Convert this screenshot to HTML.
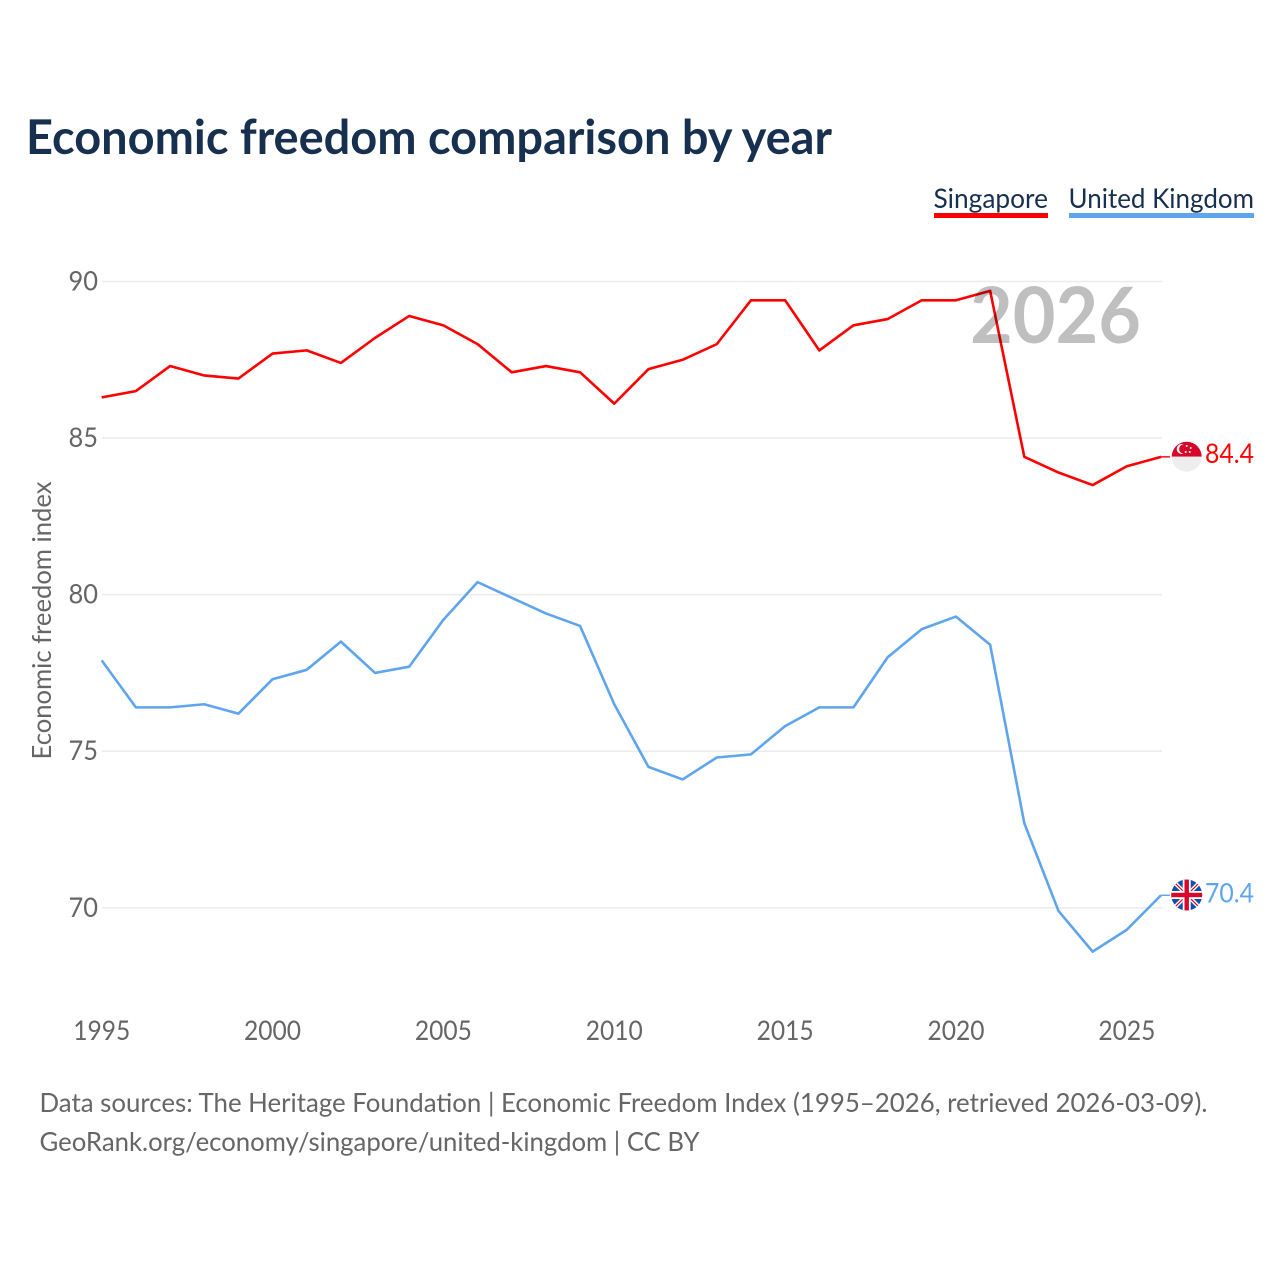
<!DOCTYPE html>
<html lang="en">
<head>
<meta charset="utf-8">
<title>Economic freedom comparison by year</title>
<style>
html,body{margin:0;padding:0;background:#fff;}
svg{display:block;}
text{font-family:"Lato","Carlito","Liberation Sans",sans-serif;}
</style>
</head>
<body>
<svg id="chart" xmlns="http://www.w3.org/2000/svg" width="1280" height="1280" viewBox="0 0 1280 1280">
  <defs>
    <clipPath id="flag-clip-sg"><circle cx="1186.7" cy="456.7" r="15"/></clipPath>
    <clipPath id="flag-clip-uk"><circle cx="1186.7" cy="895" r="15.5"/></clipPath>
  </defs>
  <rect x="0" y="0" width="1280" height="1280" fill="#ffffff"/>
  <text x="26" y="154" font-size="48" font-weight="700" fill="#18304f" textLength="806" lengthAdjust="spacingAndGlyphs">Economic freedom comparison by year</text>

  <g>
    <text x="933.5" y="208" font-size="27" fill="#18304f" textLength="114.5" lengthAdjust="spacingAndGlyphs">Singapore</text>
    <rect x="934" y="213" width="114" height="5" fill="#ff0000"/>
  </g>
  <g>
    <text x="1068.5" y="208" font-size="27" fill="#18304f" textLength="185.5" lengthAdjust="spacingAndGlyphs">United Kingdom</text>
    <rect x="1069" y="213" width="185" height="5" fill="#5fa5ee"/>
  </g>

  <g id="grid"></g>
  <g id="yticks"></g>
  <g id="xticks"></g>
  <text transform="translate(51 620.5) rotate(-90)" text-anchor="middle" font-size="26.5" fill="#666666" textLength="278" lengthAdjust="spacingAndGlyphs">Economic freedom index</text>

  <g id="series"></g>

  <text x="970" y="343" font-size="78" font-weight="700" fill="#000000" fill-opacity="0.25" textLength="171" lengthAdjust="spacingAndGlyphs">2026</text>

  <g clip-path="url(#flag-clip-sg)">
    <rect x="1171" y="441" width="31" height="15.7" fill="#d9062c"/>
    <rect x="1171" y="456.7" width="31" height="15.5" fill="#eeeeee"/>
    <circle cx="1181.7" cy="449" r="5" fill="#ffffff"/>
    <circle cx="1183.7" cy="449" r="4.6" fill="#d9062c"/>
    <circle cx="1186.7" cy="446" r="1" fill="#ffffff"/>
    <circle cx="1190.7" cy="448" r="1" fill="#ffffff"/>
    <circle cx="1189.7" cy="452" r="1" fill="#ffffff"/>
    <circle cx="1185.7" cy="452" r="1" fill="#ffffff"/>
  </g>
  <g clip-path="url(#flag-clip-uk)">
    <rect x="1171" y="879" width="32" height="32" fill="#0f4fa8"/>
    <path d="M1171 879L1203 911M1203 879L1171 911" stroke="#ffffff" stroke-width="4"/>
    <path d="M1171 879L1203 911M1203 879L1171 911" stroke="#d9062c" stroke-width="1.2"/>
    <rect x="1182.7" y="879" width="8" height="32" fill="#ffffff"/>
    <rect x="1171" y="891" width="32" height="8" fill="#ffffff"/>
    <rect x="1184.5" y="879" width="4.4" height="32" fill="#d9062c"/>
    <rect x="1171" y="892.8" width="32" height="4.4" fill="#d9062c"/>
  </g>
  <g id="endlabels"></g>

  <text x="39.5" y="1112" font-size="26.5" fill="#666666" textLength="1168" lengthAdjust="spacingAndGlyphs">Data sources: The Heritage Foundation | Economic Freedom Index (1995–2026, retrieved 2026-03-09).</text>
  <text x="39.5" y="1151" font-size="26.5" fill="#666666" textLength="660" lengthAdjust="spacingAndGlyphs">GeoRank.org/economy/singapore/united-kingdom | CC BY</text>
</svg>
<script>
var years = [1995,1996,1997,1998,1999,2000,2001,2002,2003,2004,2005,2006,2007,2008,2009,2010,2011,2012,2013,2014,2015,2016,2017,2018,2019,2020,2021,2022,2023,2024,2025,2026];
var singaporeValues = [86.3,86.5,87.3,87.0,86.9,87.7,87.8,87.4,88.2,88.9,88.6,88.0,87.1,87.3,87.1,86.1,87.2,87.5,88.0,89.4,89.4,87.8,88.6,88.8,89.4,89.4,89.7,84.4,83.9,83.5,84.1,84.4];
var ukValues = [77.9,76.4,76.4,76.5,76.2,77.3,77.6,78.5,77.5,77.7,79.2,80.4,79.9,79.4,79.0,76.5,74.5,74.1,74.8,74.9,75.8,76.4,76.4,78.0,78.9,79.3,78.4,72.7,69.9,68.6,69.3,70.4];
var yTickLabels = [70,75,80,85,90];
var xTickLabels = [1995,2000,2005,2010,2015,2020,2025];

var NS = 'http://www.w3.org/2000/svg';
function xScale(year){ return 101.7 + (year - 1995) * (1161 - 101.7) / 31; }
function yScale(v){ return 907.8 + (v - 70) * (281.5 - 907.8) / 20; }
function make(tag, attrs, parent){
  var el = document.createElementNS(NS, tag);
  for (var k in attrs) el.setAttribute(k, attrs[k]);
  parent.appendChild(el);
  return el;
}
var grid = document.getElementById('grid');
var yticks = document.getElementById('yticks');
var xticks = document.getElementById('xticks');
var seriesGroup = document.getElementById('series');
var endLabels = document.getElementById('endlabels');

yTickLabels.forEach(function(t){
  var line = make('line', {x1:102, x2:1162, y1:yScale(t), y2:yScale(t), stroke:'#ececec', 'stroke-width':1.6}, grid);
  
  
  var label = make('text', {x:98, y:yScale(t) + 9, 'text-anchor':'end', 'font-size':27, fill:'#666666', textLength:29.5, lengthAdjust:'spacingAndGlyphs'}, yticks);
  label.textContent = t;
  
  
});
xTickLabels.forEach(function(t){
  var label = make('text', {x:xScale(t), y:1040, 'text-anchor':'middle', 'font-size':27, fill:'#666666', textLength:57, lengthAdjust:'spacingAndGlyphs'}, xticks);
  label.textContent = t;
  
  
});

function drawSeries(values, color, name){
  var pts = values.map(function(v, i){ return xScale(years[i]).toFixed(2) + ',' + yScale(v).toFixed(2); }).join(' ');
  var line = make('polyline', {points:pts, fill:'none', stroke:color, 'stroke-width':2.6, 'stroke-linejoin':'round'}, seriesGroup);
  
  
  var last = values[values.length - 1];
  var yEnd = yScale(last);
  var lead = make('line', {x1:xScale(years[years.length - 1]), x2:1170, y1:yEnd, y2:yEnd, stroke:color, 'stroke-width':1.4}, seriesGroup);
  
  
  return yEnd;
}
var sgEnd = drawSeries(singaporeValues, '#ff0000', 'singapore');
var ukEnd = drawSeries(ukValues, '#5fa5ee', 'united-kingdom');

var sgLabel = make('text', {x:1205, y:sgEnd + 6, 'font-size':27, fill:'#ff0000', textLength:49, lengthAdjust:'spacingAndGlyphs'}, endLabels);
sgLabel.textContent = singaporeValues[singaporeValues.length - 1].toFixed(1);


var ukLabel = make('text', {x:1205, y:ukEnd + 7, 'font-size':27, fill:'#5fa5ee', textLength:49, lengthAdjust:'spacingAndGlyphs'}, endLabels);
ukLabel.textContent = ukValues[ukValues.length - 1].toFixed(1);


</script>
</body>
</html>
